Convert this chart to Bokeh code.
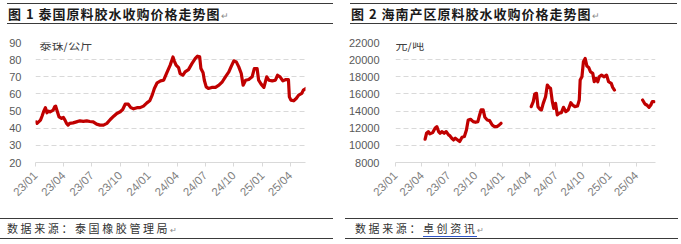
import math
import pandas as pd
from bokeh.plotting import figure
from bokeh.models import Range1d, FixedTicker, Label, Div
from bokeh.layouts import row, column
from bokeh.embed import file_html
from bokeh.resources import INLINE

# ---------------- data ----------------
th_dates = ["2023-01-03", "2023-01-06", "2023-01-17", "2023-01-22", "2023-01-27", "2023-02-02",
            "2023-02-07", "2023-02-12", "2023-02-17", "2023-02-27", "2023-03-04", "2023-03-07",
            "2023-03-11", "2023-03-18", "2023-03-26", "2023-04-01", "2023-04-06", "2023-04-11",
            "2023-04-16", "2023-04-21", "2023-05-02", "2023-05-13", "2023-05-24", "2023-06-04",
            "2023-06-15", "2023-06-25", "2023-07-06", "2023-07-17", "2023-07-28", "2023-08-08",
            "2023-08-19", "2023-08-30", "2023-09-10", "2023-09-20", "2023-10-01", "2023-10-09",
            "2023-10-17", "2023-10-27", "2023-11-04", "2023-11-13", "2023-11-24", "2023-12-04",
            "2023-12-15", "2023-12-26", "2024-01-04", "2024-01-12", "2024-01-19", "2024-01-28",
            "2024-02-08", "2024-02-18", "2024-02-28", "2024-03-10", "2024-03-19", "2024-03-23",
            "2024-03-29", "2024-04-06", "2024-04-11", "2024-04-20", "2024-04-27", "2024-05-08",
            "2024-05-19", "2024-05-30", "2024-06-06", "2024-06-13", "2024-06-17", "2024-06-24",
            "2024-06-28", "2024-07-04", "2024-07-11", "2024-07-22", "2024-08-03", "2024-08-14",
            "2024-08-25", "2024-09-04", "2024-09-15", "2024-09-22", "2024-10-01", "2024-10-09",
            "2024-10-17", "2024-10-25", "2024-10-31", "2024-11-08", "2024-11-18", "2024-11-29",
            "2024-12-06", "2024-12-15", "2024-12-20", "2024-12-28", "2025-01-06", "2025-01-15",
            "2025-01-22", "2025-02-02", "2025-02-12", "2025-02-19", "2025-02-27", "2025-03-08",
            "2025-03-18", "2025-03-26", "2025-03-29", "2025-04-03", "2025-04-12", "2025-04-20",
            "2025-04-28", "2025-05-08", "2025-05-13", "2025-05-22"]
th_price = [43.7, 42.8, 44.7, 47.0, 49.6, 52.0,
            49.0, 50.0, 49.5, 50.5, 52.6, 52.9,
            50.5, 46.6, 45.7, 46.3, 44.7, 42.8,
            41.8, 42.8, 43.1, 43.7, 44.3, 44.0,
            44.3, 43.9, 43.7, 42.4, 41.8, 41.8,
            42.8, 45.1, 47.0, 48.6, 49.6, 50.9,
            54.0, 54.0, 52.0, 51.3, 52.0, 52.0,
            52.9, 54.8, 56.0, 59.3, 63.2, 66.5,
            67.6, 68.0, 72.3, 76.8, 81.6, 79.3,
            76.8, 75.4, 71.9, 70.9, 72.9, 74.2,
            77.7, 80.7, 82.0, 81.6, 74.8, 72.3,
            68.0, 64.1, 63.2, 63.8, 63.8, 65.1,
            67.1, 70.0, 72.9, 75.8, 79.3, 78.7,
            75.8, 71.9, 65.1, 68.0, 68.4, 70.0,
            74.8, 74.8, 68.0, 65.7, 63.8, 70.0,
            68.0, 67.6, 68.0, 70.9, 70.0, 67.6,
            68.4, 68.4, 58.3, 56.4, 56.0, 57.3,
            59.3, 60.3, 62.2, 63.2]

hn_dates = ["2023-04-12", "2023-04-17", "2023-04-23", "2023-04-28", "2023-05-08", "2023-05-16",
            "2023-05-22", "2023-05-28", "2023-06-02", "2023-06-08", "2023-06-16", "2023-06-23",
            "2023-07-01", "2023-07-06", "2023-07-12", "2023-07-18", "2023-07-24", "2023-08-01",
            "2023-08-08", "2023-08-16", "2023-08-24", "2023-08-31", "2023-09-06", "2023-09-14",
            "2023-09-23", "2023-10-01", "2023-10-09", "2023-10-15", "2023-10-20", "2023-10-27",
            "2023-11-02", "2023-11-10", "2023-11-18", "2023-11-27", "2023-12-04", "2023-12-13",
            "2023-12-21", "2023-12-27",
            "2024-02-15",
            "2024-04-08", "2024-04-15", "2024-04-20", "2024-04-26", "2024-05-01", "2024-05-08",
            "2024-05-13", "2024-05-19", "2024-05-27", "2024-06-02", "2024-06-08", "2024-06-13",
            "2024-06-19", "2024-06-24", "2024-06-30", "2024-07-06", "2024-07-12", "2024-07-20",
            "2024-07-27", "2024-08-04", "2024-08-12", "2024-08-21", "2024-08-27", "2024-09-04",
            "2024-09-13", "2024-09-19", "2024-09-22", "2024-09-28", "2024-10-03", "2024-10-09",
            "2024-10-15", "2024-10-21", "2024-10-27", "2024-11-04", "2024-11-09", "2024-11-15",
            "2024-11-21", "2024-11-26", "2024-12-04", "2024-12-13", "2024-12-21", "2024-12-28",
            "2025-01-06", "2025-01-11", "2025-01-17",
            "2025-03-01",
            "2025-04-23", "2025-05-01", "2025-05-07", "2025-05-15", "2025-05-21", "2025-05-26",
            "2025-06-01"]
hn_price = [10715, 11413, 11607, 11335, 11490, 11995,
            12190, 11607, 11413, 11607, 11413, 11607,
            11220, 11100, 10830, 10630, 10830, 10630,
            10440, 10950, 11025, 11800, 12965, 13040,
            12770, 12690, 12770, 13550, 14130, 14130,
            13275, 12965, 12890, 12380, 12190, 12190,
            12380, 12575,
            float("nan"),
            14515, 15100, 15990, 16067, 14515, 14205,
            14130, 14900, 15680, 17040, 16765, 16650,
            15100, 14320, 14900, 13550, 13740, 13820,
            14440, 13935, 14130, 14980, 14710, 14515,
            14595, 15290, 17620, 18000, 19750, 20140,
            19250, 19090, 18590, 18400, 17420, 17810,
            17420, 18000, 18200, 18000, 18200, 17420,
            17230, 16765, 16455,
            float("nan"),
            15290, 14825, 14710, 14440, 14710, 15100,
            15100]

tick_dates = ["2023-01-01", "2023-04-01", "2023-07-01", "2023-10-01", "2024-01-01",
              "2024-04-01", "2024-07-01", "2024-10-01", "2025-01-01", "2025-04-01"]
tick_labels = ["23/01", "23/04", "23/07", "23/10", "24/01",
               "24/04", "24/07", "24/10", "25/01", "25/04"]
th_y_ticks = [20, 30, 40, 50, 60, 70, 80, 90]
hn_y_ticks = [8000, 10000, 12000, 14000, 16000, 18000, 20000, 22000]

title1 = "图 1 泰国原料胶水收购价格走势图"
title2 = "图 2 海南产区原料胶水收购价格走势图"
unit1 = "泰铢/公斤"
unit2 = "元/吨"
src_prefix = "数据来源："
src1 = "泰国橡胶管理局"
src2 = "卓创资讯"

# ---------------- helpers ----------------
tick_ms = [float((pd.Timestamp(d) - pd.Timestamp("1970-01-01")) // pd.Timedelta("1ms")) for d in tick_dates]
RED = "#C00000"
CJK = "Noto Sans CJK SC"


def make_chart(width, dates, values, y_lo, y_hi, y_ticks, x_end, unit, left, right, standoff, unit_x):
    p = figure(width=width, height=190, x_axis_type="datetime",
               x_range=Range1d(pd.Timestamp("2023-01-01"), pd.Timestamp(x_end)),
               y_range=Range1d(y_lo, y_hi),
               output_backend="svg", toolbar_location=None,
               min_border_left=left, min_border_right=right,
               min_border_top=14, min_border_bottom=56)
    p.outline_line_color = None
    p.background_fill_color = "white"
    p.border_fill_color = "white"
    p.line(pd.to_datetime(dates), values, line_color=RED, line_width=3.2,
           line_join="round", line_cap="round")

    xa = p.xaxis[0]
    xa.ticker = FixedTicker(ticks=tick_ms)
    xa.major_label_overrides = dict(zip(tick_ms, tick_labels))
    xa.major_label_orientation = math.pi / 4
    xa.axis_line_color = "#d9d9d9"
    xa.major_tick_line_color = "#d9d9d9"
    xa.major_tick_out = 4
    xa.major_tick_in = 0
    xa.minor_tick_line_color = None
    xa.major_label_text_color = "#808080"
    xa.major_label_text_font = "Liberation Sans"
    xa.major_label_text_font_size = "11.5px"
    xa.major_label_standoff = 7

    ya = p.yaxis[0]
    ya.ticker = FixedTicker(ticks=y_ticks)
    ya.axis_line_color = None
    ya.major_tick_line_color = None
    ya.minor_tick_line_color = None
    ya.major_label_text_color = "#595959"
    ya.major_label_text_font = "Liberation Sans"
    ya.major_label_text_font_size = "11px"
    ya.major_label_standoff = standoff

    p.xgrid.grid_line_color = None
    p.ygrid.ticker = FixedTicker(ticks=y_ticks)
    p.ygrid.grid_line_color = "#d9d9d9"
    p.ygrid.grid_line_dash = "5 3"

    p.add_layout(Label(x=unit_x, y=y_hi, x_units="screen", y_units="data", text=unit,
                       text_font=CJK, text_font_size="12px", text_color="#404040",
                       text_baseline="middle", y_offset=-2,
                       background_fill_color="white", padding=2))
    return p


def title_div(width, left, line_w, text):
    html = (
        f'<div style="position:relative;width:{width}px;height:28px;font-family:\'{CJK}\';">'
        f'<div style="position:absolute;left:{left}px;top:3px;width:{line_w}px;border-top:1px solid #3a3a3a;"></div>'
        f'<div style="position:absolute;left:{left + 1}px;top:5px;font-size:13px;font-weight:bold;'
        f'color:#1a1a1a;white-space:nowrap;line-height:18px;letter-spacing:1px;">{text}'
        f'<span style="font-size:9px;color:#888;font-weight:normal;">&#8629;</span></div>'
        f'<div style="position:absolute;left:{left}px;top:23px;width:{line_w}px;border-top:1.5px solid #3a3a3a;"></div>'
        f'</div>'
    )
    return Div(text=html, width=width, height=28, margin=0)


def footer_div(width, line_left, line_w, text_left, inner):
    html = (
        f'<div style="position:relative;width:{width}px;height:26px;font-family:\'{CJK}\';">'
        f'<div style="position:absolute;left:{line_left}px;top:0px;width:{line_w}px;border-top:1px solid #3a3a3a;"></div>'
        f'<div style="position:absolute;left:{text_left}px;top:2px;font-size:11px;color:#333;'
        f'white-space:nowrap;line-height:16px;letter-spacing:2.6px;">{inner}'
        f'<span style="font-size:8px;color:#888;letter-spacing:0;">&#8629;</span></div>'
        f'<div style="position:absolute;left:{line_left}px;top:20px;width:{line_w}px;border-top:1px solid #3a3a3a;"></div>'
        f'</div>'
    )
    return Div(text=html, width=width, height=26, margin=0)


p1 = make_chart(340, th_dates, th_price, 20, 90, th_y_ticks, "2025-05-20", unit1, 35, 35, 8, 2)
p2 = make_chart(341, hn_dates, hn_price, 8000, 22000, hn_y_ticks, "2025-06-06", unit2, 55, 26, 10, -2)

t1 = title_div(340, 7, 326, title1)
t2 = title_div(341, 10, 327, title2)
f1 = footer_div(340, 0, 333, 7, src_prefix + src1)
f2 = footer_div(341, 5, 333, 15,
                src_prefix + f'<span style="border-bottom:1.5px solid #2f55c8;">{src2}</span>')

layout = row(column(t1, p1, f1, spacing=0), column(t2, p2, f2, spacing=0), spacing=0)

with open("out.html", "w") as fh:
    fh.write(file_html(layout, INLINE))
